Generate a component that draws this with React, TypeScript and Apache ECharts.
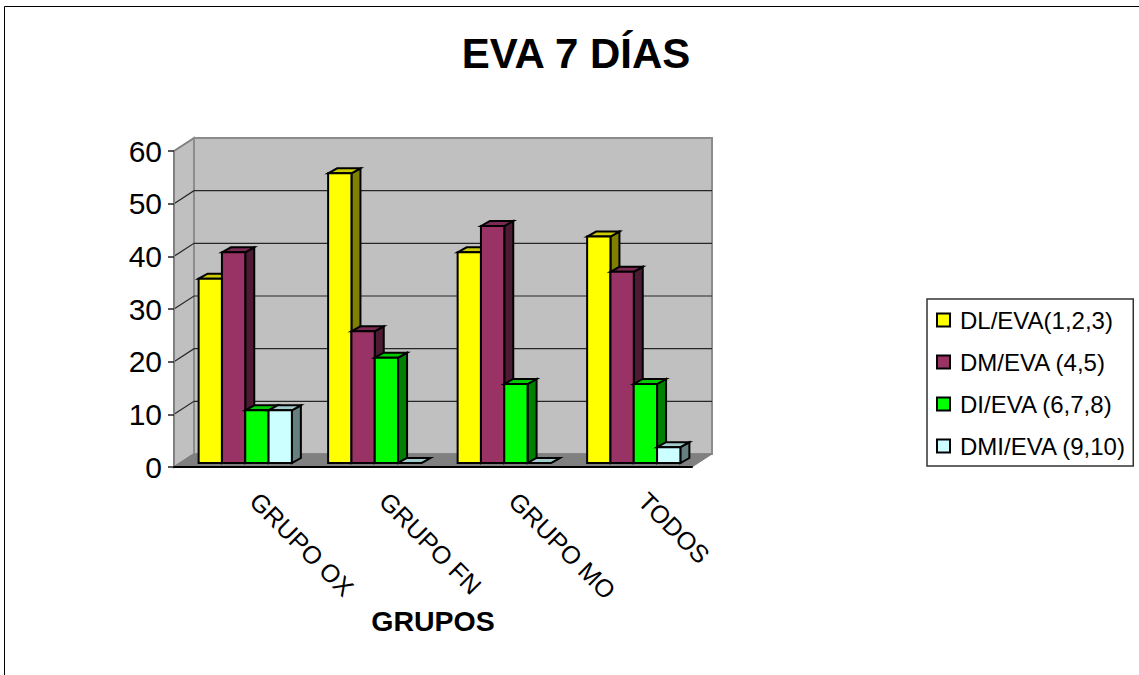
import React, { useEffect, useRef } from "react";
import * as echarts from "echarts";

const FONT = "'Liberation Sans', Arial, sans-serif";
const categories = ["GRUPO OX", "GRUPO FN", "GRUPO MO", "TODOS"];
const yTicks = [0, 10, 20, 30, 40, 50, 60];
const dlValues = [35, 55, 40, 43];
const dmValues = [40, 25, 45, 36.3];
const diValues = [10, 20, 15, 15];
const dmiValues = [10, 0, 0, 3];
const seriesNames = ["DL/EVA(1,2,3)", "DM/EVA (4,5)", "DI/EVA (6,7,8)", "DMI/EVA (9,10)"];
const seriesValues = [dlValues, dmValues, diValues, dmiValues];
const frontColors = ["#ffff00", "#993366", "#00ff00", "#ccffff"];
const topColors = ["#cccc00", "#7a2952", "#00cc00", "#a3cccc"];
const sideColors = ["#808000", "#4d1a33", "#008000", "#668080"];

const WALL_DX = 20;
const WALL_DY = -13;
const BAR_DX = 9;
const BAR_DY = -5;
const BAR_SHIFT_X = 6.5;
const BAR_SHIFT_Y = -4;

function renderWall(_p: any, api: any) {
  const tick = api.value(0);
  const band = api.size([1, 0])[0];
  const left = api.coord([0, 0])[0] - band / 2;
  const right = api.coord([categories.length - 1, 0])[0] + band / 2;
  const y = api.coord([0, tick])[1];
  const y0 = api.coord([0, 0])[1];
  const y60 = api.coord([0, 60])[1];
  const children: any[] = [];
  if (tick === 0) {
    children.push({
      type: "polygon",
      shape: { points: [[left, y0], [left + WALL_DX, y0 + WALL_DY], [left + WALL_DX, y60 + WALL_DY], [left, y60]] },
      style: { fill: "#c0c0c0", stroke: "#808080", lineWidth: 2 },
    });
    children.push({
      type: "polygon",
      shape: { points: [[left + WALL_DX, y0 + WALL_DY], [right + WALL_DX, y0 + WALL_DY], [right + WALL_DX, y60 + WALL_DY], [left + WALL_DX, y60 + WALL_DY]] },
      style: { fill: "#c0c0c0", stroke: "#8c8c8c", lineWidth: 2 },
    });
    children.push({
      type: "polygon",
      shape: { points: [[left, y0], [right, y0], [right + WALL_DX, y0 + WALL_DY], [left + WALL_DX, y0 + WALL_DY]] },
      style: { fill: "#808080", stroke: "#808080", lineWidth: 1 },
    });
  } else if (tick < 60) {
    children.push({
      type: "polyline",
      shape: { points: [[left, y], [left + WALL_DX, y + WALL_DY], [right + WALL_DX, y + WALL_DY]] },
      style: { fill: "none", stroke: "#262626", lineWidth: 1.2 },
    });
  }
  return { type: "group", children };
}

function makeBarRenderer(seriesIndex: number) {
  return (_p: any, api: any) => {
    const cat = api.value(0);
    const val = api.value(1);
    const band = api.size([1, 0])[0];
    const w = band * 0.18;
    const center = api.coord([cat, 0]);
    const x0 = center[0] - 2 * w + seriesIndex * w + BAR_SHIFT_X;
    const x1 = x0 + w;
    const yb = center[1] + BAR_SHIFT_Y;
    const yt = api.coord([cat, val])[1] + BAR_SHIFT_Y;
    const stroke = { stroke: "#000", lineWidth: 2, lineJoin: "miter" };
    return {
      type: "group",
      children: [
        {
          type: "polygon",
          shape: { points: [[x1, yt], [x1 + BAR_DX, yt + BAR_DY], [x1 + BAR_DX, yb + BAR_DY], [x1, yb]] },
          style: { fill: sideColors[seriesIndex], ...stroke },
        },
        {
          type: "polygon",
          shape: { points: [[x0, yt], [x0 + BAR_DX, yt + BAR_DY], [x1 + BAR_DX, yt + BAR_DY], [x1, yt]] },
          style: { fill: topColors[seriesIndex], ...stroke },
        },
        {
          type: "polygon",
          shape: { points: [[x0, yb], [x0, yt], [x1, yt], [x1, yb]] },
          style: { fill: frontColors[seriesIndex], ...stroke },
        },
      ],
    };
  };
}

export default function App() {
  const ref = useRef<HTMLDivElement>(null);
  useEffect(() => {
    const chart = echarts.init(ref.current!, undefined, { renderer: "svg" });
    chart.setOption({
      animation: false,
      backgroundColor: "#ffffff",
      textStyle: { fontFamily: FONT },
      title: {
        text: "EVA 7 DÍAS",
        left: 571,
        top: 27,
        textAlign: "center",
        textStyle: { fontFamily: FONT, fontSize: 42, fontWeight: "bold", color: "#000" },
      },
      graphic: [
        {
          type: "rect",
          z: -1,
          shape: { x: 4.5, y: 6.5, width: 1300, height: 900 },
          style: { fill: "none", stroke: "#000", lineWidth: 1 },
        },
      ],
      legend: {
        left: 927,
        top: 299,
        orient: "vertical",
        icon: "rect",
        itemWidth: 13,
        itemHeight: 13,
        itemGap: 18,
        padding: [9, 7, 8, 9],
        borderColor: "#333",
        borderWidth: 1.5,
        backgroundColor: "#fff",
        textStyle: { fontFamily: FONT, fontSize: 24, color: "#000", padding: [0, 0, 0, 5] },
        data: seriesNames.map((name, i) => ({
          name,
          itemStyle: { color: frontColors[i], borderColor: "#000", borderWidth: 2 },
        })),
      },
      grid: { left: 174, top: 151, width: 518, height: 316 },
      xAxis: {
        type: "category",
        data: categories,
        z: 10,
        name: "GRUPOS",
        nameLocation: "middle",
        nameGap: 138,
        nameTextStyle: { fontFamily: FONT, fontSize: 28.5, fontWeight: "bold", color: "#000" },
        axisLine: { lineStyle: { color: "#000", width: 2 } },
        axisTick: { length: 7, lineStyle: { color: "#555", width: 1.5 } },
        axisLabel: { rotate: -45, interval: 0, margin: 14, padding: [0, 0, 0, 22], fontFamily: FONT, fontSize: 25, color: "#000" },
      },
      yAxis: {
        type: "value",
        min: 0,
        max: 60,
        interval: 10,
        z: 10,
        axisLine: { show: true, lineStyle: { color: "#808080", width: 2 } },
        axisTick: { show: true, length: 6, lineStyle: { color: "#222", width: 1.5 } },
        axisLabel: { margin: 12, fontFamily: FONT, fontSize: 30, color: "#000" },
        splitLine: { show: false },
      },
      series: [
        {
          type: "custom",
          name: "walls",
          z: 1,
          silent: true,
          renderItem: renderWall,
          data: yTicks.map((t) => [t]),
          encode: { y: 0 },
        },
        ...seriesNames.map((name, i) => ({
          type: "custom",
          name,
          z: 2 + i,
          itemStyle: { color: frontColors[i] },
          renderItem: makeBarRenderer(i),
          data: seriesValues[i].map((v, c) => [c, v]),
          encode: { x: 0, y: 1 },
        })),
      ],
    });
    return () => chart.dispose();
  }, []);
  return <div ref={ref} style={{ position: "absolute", left: 0, top: 0, width: 1139, height: 675 }} />;
}
